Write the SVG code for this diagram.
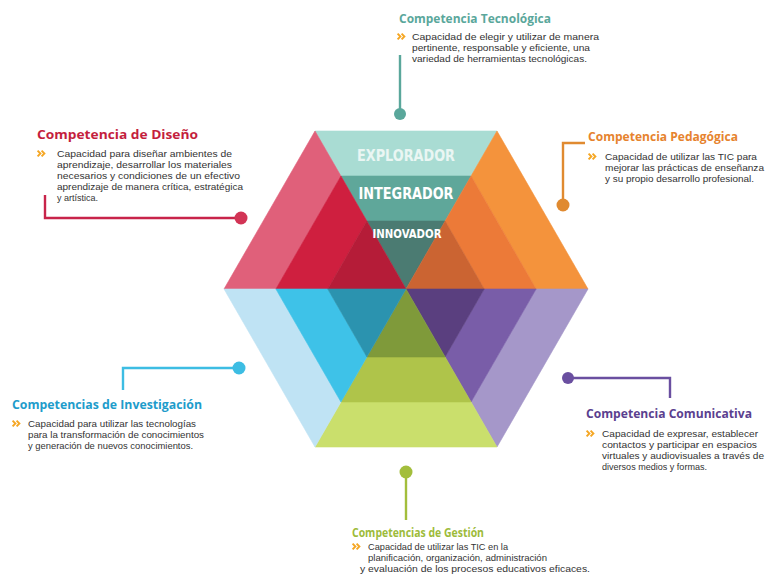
<svg xmlns="http://www.w3.org/2000/svg" width="768" height="579" viewBox="0 0 768 579">
<defs>
<style>
.t{font-family:"Open Sans","Liberation Sans",sans-serif;font-weight:700;font-size:12.5px}
.b{font-family:"Liberation Sans","Open Sans",sans-serif;font-size:9.8px;fill:#333333}
.lvl{font-family:"DejaVu Sans Condensed","Liberation Sans",sans-serif;font-weight:700;text-anchor:middle}
.ln{fill:none;stroke-width:2.4}
polygon{stroke-width:0.6;stroke-linejoin:round}
</style>
<symbol id="chev" viewBox="0 0 9 7" overflow="visible">
<path d="M0.6,0.6 L3.4,3.5 L0.6,6.4 M4.6,0.6 L7.4,3.5 L4.6,6.4" fill="none" stroke="#F5A623" stroke-width="1.9"/>
</symbol>
</defs>
<rect width="768" height="579" fill="#ffffff"/>

<g id="hexagon">
<polygon fill="#A9DCD3" stroke="#A9DCD3" points="340.94,176.03 315,131 497,131 471.06,176.03"/>
<polygon fill="#5FA79A" stroke="#5FA79A" points="366.87,221.06 340.94,176.03 471.06,176.03 445.13,221.06"/>
<polygon fill="#4B7B72" stroke="#4B7B72" points="406,289 366.87,221.06 445.13,221.06"/>
<polygon fill="#E0607A" stroke="#E0607A" points="275.87,289 224,289 315,131 340.94,176.03"/>
<polygon fill="#CF1F3F" stroke="#CF1F3F" points="327.74,289 275.87,289 340.94,176.03 366.87,221.06"/>
<polygon fill="#B51C38" stroke="#B51C38" points="406,289 327.74,289 366.87,221.06"/>
<polygon fill="#F4933C" stroke="#F4933C" points="471.06,176.03 497,131 588,289 536.13,289"/>
<polygon fill="#EC7A38" stroke="#EC7A38" points="445.13,221.06 471.06,176.03 536.13,289 484.26,289"/>
<polygon fill="#CB6432" stroke="#CB6432" points="406,289 445.13,221.06 484.26,289"/>
<polygon fill="#A597C9" stroke="#A597C9" points="536.13,289 588,289 497,447 471.06,401.97"/>
<polygon fill="#795DA8" stroke="#795DA8" points="484.26,289 536.13,289 471.06,401.97 445.13,356.94"/>
<polygon fill="#5A3F7F" stroke="#5A3F7F" points="406,289 484.26,289 445.13,356.94"/>
<polygon fill="#CADF6C" stroke="#CADF6C" points="471.06,401.97 497,447 315,447 340.94,401.97"/>
<polygon fill="#AFC44A" stroke="#AFC44A" points="445.13,356.94 471.06,401.97 340.94,401.97 366.87,356.94"/>
<polygon fill="#7F9A3A" stroke="#7F9A3A" points="406,289 445.13,356.94 366.87,356.94"/>
<polygon fill="#BFE3F4" stroke="#BFE3F4" points="340.94,401.97 315,447 224,289 275.87,289"/>
<polygon fill="#3EC2E8" stroke="#3EC2E8" points="366.87,356.94 340.94,401.97 275.87,289 327.74,289"/>
<polygon fill="#2B93AF" stroke="#2B93AF" points="406,289 366.87,356.94 327.74,289"/>
<text class="lvl" x="406" y="161" font-size="15.5" fill="#EAF6F3" textLength="98" lengthAdjust="spacingAndGlyphs">EXPLORADOR</text>
<text class="lvl" x="406" y="199" font-size="15.5" fill="#FFFFFF" textLength="95" lengthAdjust="spacingAndGlyphs">INTEGRADOR</text>
<text class="lvl" x="407" y="238" font-size="12.5" fill="#FFFFFF" textLength="69" lengthAdjust="spacingAndGlyphs">INNOVADOR</text>
</g>

<g id="connectors">
<path class="ln" stroke="#5AA79B" d="M400,55 V113"/>
<circle cx="400" cy="114" r="6" fill="#5AA79B"/>
<path class="ln" stroke="#C8244A" d="M45,195 V218 H238"/>
<circle cx="241" cy="218" r="6.5" fill="#D23455"/>
<path class="ln" stroke="#E08A30" d="M585,143 H563 V200"/>
<circle cx="563" cy="205" r="6.5" fill="#E08A30"/>
<path class="ln" stroke="#3DBDE3" d="M123,390 V368 H234"/>
<circle cx="239" cy="368" r="6.5" fill="#3DBDE3"/>
<path class="ln" stroke="#6A4FA0" d="M572,378 H670 V398"/>
<circle cx="568" cy="378" r="6" fill="#6A4FA0"/>
<path class="ln" stroke="#A3BE3C" d="M406,476 V520"/>
<circle cx="406" cy="472" r="6.5" fill="#A3BE3C"/>
</g>

<g id="tecnologica">
<text class="t" x="399" y="23" fill="#5AA79B" textLength="152" lengthAdjust="spacingAndGlyphs">Competencia Tecnológica</text>
<use href="#chev" x="397" y="33" width="9" height="7"/>
<text class="b" x="412" y="40" textLength="187" lengthAdjust="spacingAndGlyphs">Capacidad de elegir y utilizar de manera</text>
<text class="b" x="412" y="51" textLength="178" lengthAdjust="spacingAndGlyphs">pertinente, responsable y eficiente, una</text>
<text class="b" x="412" y="62" textLength="175" lengthAdjust="spacingAndGlyphs">variedad de herramientas tecnológicas.</text>
</g>

<g id="diseno">
<text class="t" x="37" y="139" fill="#C41E3D" textLength="161" lengthAdjust="spacingAndGlyphs">Competencia de Diseño</text>
<use href="#chev" x="37" y="150" width="9" height="7"/>
<text class="b" x="57" y="157" textLength="175" lengthAdjust="spacingAndGlyphs">Capacidad para diseñar ambientes de</text>
<text class="b" x="57" y="168" textLength="175" lengthAdjust="spacingAndGlyphs">aprendizaje, desarrollar los materiales</text>
<text class="b" x="57" y="179" textLength="183" lengthAdjust="spacingAndGlyphs">necesarios y condiciones de un efectivo</text>
<text class="b" x="57" y="190" textLength="186" lengthAdjust="spacingAndGlyphs">aprendizaje de manera crítica, estratégica</text>
<text class="b" x="57" y="201" textLength="41" lengthAdjust="spacingAndGlyphs">y artística.</text>
</g>

<g id="pedagogica">
<text class="t" x="588" y="141" fill="#E6832E" textLength="150" lengthAdjust="spacingAndGlyphs">Competencia Pedagógica</text>
<use href="#chev" x="588" y="153" width="9" height="7"/>
<text class="b" x="605" y="160" textLength="152" lengthAdjust="spacingAndGlyphs">Capacidad de utilizar las TIC para</text>
<text class="b" x="605" y="171" textLength="159" lengthAdjust="spacingAndGlyphs">mejorar las prácticas de enseñanza</text>
<text class="b" x="605" y="182" textLength="149" lengthAdjust="spacingAndGlyphs">y su propio desarrollo profesional.</text>
</g>

<g id="investigacion">
<text class="t" x="12" y="409" fill="#1E9CCB" textLength="190" lengthAdjust="spacingAndGlyphs">Competencias de Investigación</text>
<use href="#chev" x="12" y="420" width="9" height="7"/>
<text class="b" x="28" y="427" textLength="168" lengthAdjust="spacingAndGlyphs">Capacidad para utilizar las tecnologías</text>
<text class="b" x="28" y="438" textLength="176" lengthAdjust="spacingAndGlyphs">para la transformación de conocimientos</text>
<text class="b" x="28" y="449" textLength="165" lengthAdjust="spacingAndGlyphs">y generación de nuevos conocimientos.</text>
</g>

<g id="comunicativa">
<text class="t" x="586" y="418" fill="#5B3F8F" textLength="166" lengthAdjust="spacingAndGlyphs">Competencia Comunicativa</text>
<use href="#chev" x="586" y="430" width="9" height="7"/>
<text class="b" x="602" y="437" textLength="156" lengthAdjust="spacingAndGlyphs">Capacidad de expresar, establecer</text>
<text class="b" x="602" y="448" textLength="155" lengthAdjust="spacingAndGlyphs">contactos y participar en espacios</text>
<text class="b" x="602" y="459" textLength="162" lengthAdjust="spacingAndGlyphs">virtuales y audiovisuales a través de</text>
<text class="b" x="602" y="470" textLength="105" lengthAdjust="spacingAndGlyphs">diversos medios y formas.</text>
</g>

<g id="gestion">
<text class="t" x="352" y="537" fill="#9DBB3A" textLength="132" lengthAdjust="spacingAndGlyphs">Competencias de Gestión</text>
<use href="#chev" x="352" y="543" width="9" height="7"/>
<text class="b" x="368" y="550" textLength="140" lengthAdjust="spacingAndGlyphs">Capacidad de utilizar las TIC en la</text>
<text class="b" x="368" y="561" textLength="179" lengthAdjust="spacingAndGlyphs">planificación, organización, administración</text>
<text class="b" x="360" y="572" textLength="230" lengthAdjust="spacingAndGlyphs">y evaluación de los procesos educativos eficaces.</text>
</g>
</svg>
